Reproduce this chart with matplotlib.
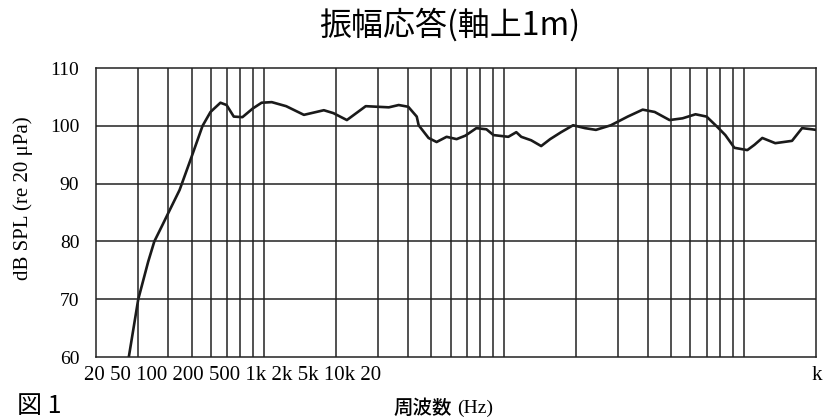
import numpy as np
import matplotlib.pyplot as plt
from matplotlib.ticker import FixedLocator, NullFormatter

# 周波数 (Hz) と 音圧レベル (dB SPL) - 図から読み取り
freq = [25, 27.4, 30, 33, 35, 38, 40, 44.6, 50, 55.6, 60, 66, 70, 75, 81.5,
        90, 98, 108, 124, 147, 178, 195, 222, 266, 332, 365, 400, 434, 442,
        486, 525, 578, 636, 692, 769, 847, 906, 1045, 1128, 1183, 1301, 1432,
        1561, 1734, 1945, 2180, 2422, 2795, 3286, 3793, 4255, 4907, 5560,
        6296, 7000, 7765, 8380, 9140, 10350, 11070, 11950, 13530, 15890,
        17500, 19250, 20000]
spl = [53, 60, 70, 76.5, 80, 83, 84.9, 88.9, 94.6, 100, 102.4, 104, 103.6,
       101.6, 101.5, 103, 104, 104.1, 103.4, 101.9, 102.7, 102.2, 101, 103.4,
       103.2, 103.6, 103.3, 101.6, 100.1, 97.9, 97.2, 98.1, 97.7, 98.3, 99.6,
       99.4, 98.4, 98.1, 98.9, 98.1, 97.5, 96.5, 97.7, 98.9, 100.1, 99.6,
       99.3, 100.1, 101.6, 102.8, 102.4, 101, 101.3, 102, 101.6, 99.8, 98.4,
       96.2, 95.8, 96.7, 97.9, 97.0, 97.4, 99.6, 99.4, 99.3]

y_ticks = [60, 70, 80, 90, 100, 110]
x_tick_text = "20 50 100 200 500 1k 2k 5k 10k 20"

serif = "Liberation Serif"
jp = "Noto Sans CJK JP"

fig = plt.figure(figsize=(8.29, 4.2), dpi=100)
ax = fig.add_axes([0.1158, 0.15, 0.8685, 0.688])

ax.plot(freq, spl, color="#1a1a1a", linewidth=1.9, solid_joinstyle="round")

ax.set_xscale("log")
ax.set_xlim(20, 20000)
ax.set_ylim(60, 110)

# 対数グリッド (20〜20k)
grid_x = []
for dec in [10, 100, 1000, 10000]:
    for m in range(1, 10):
        f = m * dec
        if 20 < f < 20000:
            grid_x.append(f)
for f in grid_x:
    ax.axvline(f, color="#222222", linewidth=1.1)
for y in y_ticks[1:-1]:
    ax.axhline(y, color="#222222", linewidth=1.1)

ax.xaxis.set_major_locator(FixedLocator([]))
ax.xaxis.set_minor_locator(FixedLocator([]))
ax.xaxis.set_major_formatter(NullFormatter())
ax.set_yticks(y_ticks)
ax.tick_params(axis="y", length=0, pad=12)
for lbl in ax.get_yticklabels():
    lbl.set_fontfamily(serif)
    lbl.set_fontsize(14)
for sp in ax.spines.values():
    sp.set_color("#222222")
    sp.set_linewidth(1.1)

ax.set_ylabel("dB SPL (re 20 μPa)", fontfamily=serif, fontsize=15)
ax.yaxis.set_label_coords(-0.088, 0.55)

# 崩れた目盛ラベル (原図のまま)
fig.text(84 / 829, 1 - 376 / 420, x_tick_text, fontfamily=serif, fontsize=15,
         ha="left", va="center")
fig.text(812 / 829, 1 - 376 / 420, "k", fontfamily=serif, fontsize=15,
         ha="left", va="center")

fig.text(452 / 829, 1 - 408 / 420, "周波数", fontfamily=jp, fontsize=14,
         fontweight="medium", ha="right", va="center")
fig.text(457 / 829, 1 - 408 / 420, "(Hz)", fontfamily=serif, fontsize=14,
         ha="left", va="center")

fig.text(450 / 829, 1 - 25 / 420, "振幅応答(軸上1m)", fontfamily=jp, fontsize=23,
         ha="center", va="center")

fig.text(17 / 829, 1 - 406 / 420, "図 1", fontfamily=jp, fontsize=18,
         ha="left", va="center")

fig.savefig("out.png", dpi=100)
